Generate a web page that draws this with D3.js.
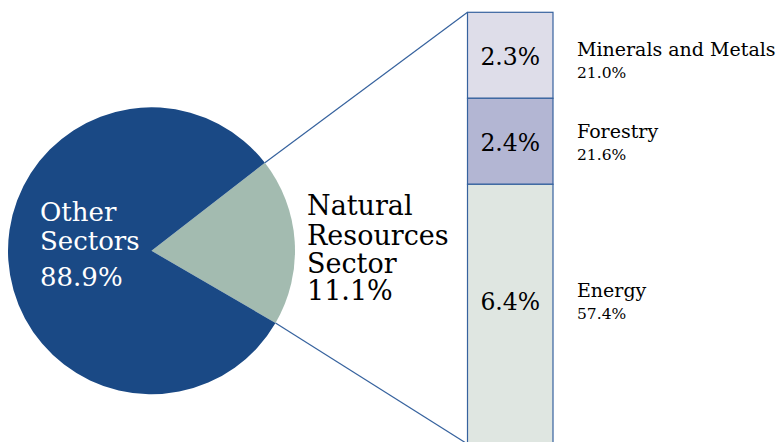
<!DOCTYPE html>
<html>
<head>
<meta charset="utf-8">
<script src="https://cdn.jsdelivr.net/npm/d3@7"></script>
<style>
  body { margin: 0; background: #fff; }
  text { font-family: "DejaVu Serif", serif; }
</style>
</head>
<body>
<script>
const w = 782
const h = 442

// pie: economy split
const sectors = ["Other Sectors", "Natural Resources Sector"]
const sectorShare = [88.9, 11.1]

// bar: natural resources breakdown
const subSectors = ["Minerals and Metals", "Forestry", "Energy"]
const subShareOfEconomy = [2.3, 2.4, 6.4]
const subShareOfSector = [21.0, 21.6, 57.4]

const pieColor = ["#1a4985", "#a3bbb0"]
const barColor = ["#dedde9", "#b3b6d3", "#dfe6e1"]
const lineColor = "#36629e"

const svg = d3.select("body").append("svg")
	.attr("width", w)
	.attr("height", h)

// Pie ----------------------------------------------------------
const cx = 151.5, cy = 250.8, r = 143.5
const deg = Math.PI / 180

// the wedge is drawn enlarged in the original, so map share -> angle with a scale
let angleScale = d3.scaleLinear()
	.domain([0, sectorShare[1], 100])
	.range([52.2 * deg, 120.2 * deg, (360 + 52.2) * deg])

let pieData = [
	{ name: sectors[1], value: sectorShare[1], startAngle: angleScale(0), endAngle: angleScale(sectorShare[1]), color: pieColor[1] },
	{ name: sectors[0], value: sectorShare[0], startAngle: angleScale(sectorShare[1]), endAngle: angleScale(100), color: pieColor[0] }
]

let arc = d3.arc().innerRadius(0).outerRadius(r)

let pieG = svg.append("g").attr("transform", `translate(${cx},${cy})`)
pieG.selectAll("path")
	.data(pieData)
	.enter()
	.append("path")
	.attr("d", arc)
	.attr("fill", d => d.color)

// Bar ----------------------------------------------------------
const barX = 467.5, barW = 85.5
let cum = [0]
subShareOfEconomy.forEach((v, i) => cum.push(cum[i] + v))

let yScale = d3.scaleLinear()
	.domain(cum)
	.range([12.3, 98.3, 184.3, 444])

let barData = subSectors.map((name, i) => ({
	name: name,
	v: subShareOfEconomy[i],
	s: subShareOfSector[i],
	y0: cum[i],
	y1: cum[i + 1],
	color: barColor[i]
}))

svg.selectAll("rect.seg")
	.data(barData)
	.enter()
	.append("rect")
	.attr("class", "seg")
	.attr("x", barX)
	.attr("y", d => yScale(d.y0))
	.attr("width", barW)
	.attr("height", d => yScale(d.y1) - yScale(d.y0))
	.attr("fill", d => d.color)
	.attr("stroke", lineColor)
	.attr("stroke-width", 1.2)

// connector lines from wedge edges to bar corners
let p1 = [cx + r * Math.sin(angleScale(0)), cy - r * Math.cos(angleScale(0))]
let p2 = [cx + r * Math.sin(angleScale(sectorShare[1])), cy - r * Math.cos(angleScale(sectorShare[1]))]
svg.append("line")
	.attr("x1", p1[0]).attr("y1", p1[1])
	.attr("x2", barX).attr("y2", yScale(0))
	.attr("stroke", lineColor).attr("stroke-width", 1.2)
svg.append("line")
	.attr("x1", p2[0]).attr("y1", p2[1])
	.attr("x2", barX).attr("y2", yScale(cum[3]))
	.attr("stroke", lineColor).attr("stroke-width", 1.2)

// bar value labels
svg.selectAll("text.val")
	.data(barData)
	.enter()
	.append("text")
	.attr("class", "val")
	.attr("x", barX + barW / 2)
	.attr("y", (d, i) => [64.5, 150.5, 310][i])
	.attr("text-anchor", "middle")
	.attr("font-size", 23.5)
	.attr("fill", "#000")
	.text(d => d.v.toFixed(1) + "%")

// legend labels
let legY = [56, 138, 297]
svg.selectAll("text.lname")
	.data(barData)
	.enter()
	.append("text")
	.attr("class", "lname")
	.attr("x", 577)
	.attr("y", (d, i) => legY[i])
	.attr("font-size", 19)
	.attr("fill", "#000")
	.text(d => d.name)

svg.selectAll("text.lpct")
	.data(barData)
	.enter()
	.append("text")
	.attr("class", "lpct")
	.attr("x", 577)
	.attr("y", (d, i) => legY[i] + 21.5)
	.attr("font-size", 15.5)
	.attr("fill", "#000")
	.text(d => d.s.toFixed(1) + "%")

// pie labels
let otherLines = ["Other", "Sectors", sectorShare[0].toFixed(1) + "%"]
svg.selectAll("text.other")
	.data(otherLines)
	.enter()
	.append("text")
	.attr("class", "other")
	.attr("x", 40)
	.attr("y", (d, i) => [221, 250, 285.5][i])
	.attr("fill", "#fff")
	.attr("font-size", 26)
	.text(d => d)

let natLines = ["Natural", "Resources", "Sector", sectorShare[1].toFixed(1) + "%"]
svg.selectAll("text.nat")
	.data(natLines)
	.enter()
	.append("text")
	.attr("class", "nat")
	.attr("x", 307)
	.attr("y", (d, i) => [215, 245, 273, 300][i])
	.attr("fill", "#000")
	.attr("font-size", 27)
	.text(d => d)
</script>
</body>
</html>
